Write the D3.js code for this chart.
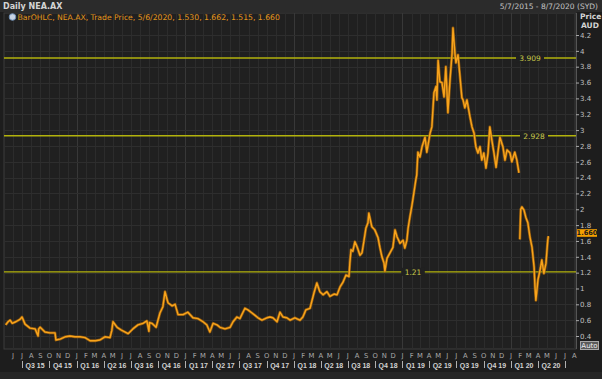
<!DOCTYPE html>
<html><head><meta charset="utf-8">
<script src="https://cdn.jsdelivr.net/npm/d3@7"></script>
<style>
html,body{margin:0;padding:0;background:#1d1d1d;overflow:hidden;}
svg{display:block;font-family:"DejaVu Sans",sans-serif;}
</style></head><body>
<svg id="chart" width="602" height="379"></svg>
<script>
// ---- data ----
const dates = [
"2015-05-07","2015-05-15","2015-05-22","2015-05-29","2015-06-10","2015-06-24","2015-07-01","2015-07-11","2015-07-28","2015-08-14",
"2015-08-24","2015-08-26","2015-08-31","2015-09-16","2015-10-03","2015-10-20","2015-10-23","2015-11-06","2015-11-23","2015-12-09",
"2015-12-26","2016-01-12","2016-01-29","2016-02-15","2016-03-03","2016-03-19","2016-04-05","2016-04-22","2016-04-28","2016-05-02",
"2016-05-16","2016-06-01","2016-06-22","2016-07-08","2016-07-25","2016-08-11","2016-08-24","2016-08-31","2016-09-02","2016-09-10",
"2016-09-24","2016-10-07","2016-10-17","2016-10-24","2016-11-03","2016-11-17","2016-11-27","2016-12-07","2016-12-24","2017-01-09",
"2017-01-26","2017-02-12","2017-03-01","2017-03-14","2017-03-24","2017-04-04","2017-04-17","2017-04-27","2017-05-14","2017-05-31",
"2017-06-10","2017-06-23","2017-07-03","2017-07-20","2017-07-30","2017-08-13","2017-08-23","2017-09-02","2017-09-15","2017-10-02",
"2017-10-12","2017-10-22","2017-11-05","2017-11-15","2017-11-25","2017-12-08","2017-12-19","2018-01-04","2018-01-21","2018-01-31",
"2018-02-10","2018-02-24","2018-03-09","2018-03-19","2018-03-29","2018-04-09","2018-04-22","2018-05-02","2018-05-16","2018-05-26",
"2018-06-05","2018-06-15","2018-06-25","2018-07-05","2018-07-08","2018-07-12","2018-07-18","2018-07-25","2018-08-01","2018-08-11",
"2018-08-18","2018-08-24","2018-08-31","2018-09-07","2018-09-10","2018-09-20","2018-09-30","2018-10-11","2018-10-17","2018-10-24",
"2018-10-31","2018-11-03","2018-11-10","2018-11-20","2018-11-30","2018-12-07","2018-12-14","2018-12-24","2019-01-03","2019-01-09",
"2019-01-16","2019-01-20","2019-01-26","2019-02-02","2019-02-09","2019-02-15","2019-02-18","2019-02-22","2019-03-01","2019-03-08",
"2019-03-18","2019-03-24","2019-04-04","2019-04-10","2019-04-17","2019-04-24","2019-04-27","2019-05-01","2019-05-07","2019-05-14",
"2019-05-21","2019-05-27","2019-06-03","2019-06-10","2019-06-17","2019-06-20","2019-06-27","2019-06-30","2019-07-07","2019-07-13",
"2019-07-20","2019-07-24","2019-07-30","2019-08-06","2019-08-16","2019-08-23","2019-08-30","2019-09-05","2019-09-12","2019-09-19",
"2019-09-25","2019-10-02","2019-10-09","2019-10-16","2019-10-22","2019-10-29","2019-11-05","2019-11-12","2019-11-18","2019-11-25",
"2019-12-05","2019-12-12","2019-12-19","2019-12-29","2020-01-04","2020-01-14","2020-01-21","2020-01-28","2020-01-30","2020-01-31",
"2020-02-03","2020-02-07","2020-02-14","2020-02-20","2020-02-27","2020-03-05","2020-03-12","2020-03-19","2020-03-22","2020-03-25",
"2020-04-01","2020-04-08","2020-04-14","2020-04-21","2020-04-28","2020-05-04","2020-05-06"
];
const prices = [
0.54,0.58,0.60,0.56,0.58,0.61,0.64,0.55,0.50,0.49,
0.40,0.49,0.51,0.45,0.44,0.44,0.35,0.36,0.39,0.40,
0.39,0.39,0.38,0.34,0.34,0.35,0.39,0.38,0.47,0.58,
0.51,0.47,0.43,0.49,0.54,0.56,0.59,0.46,0.57,0.56,
0.51,0.69,0.77,0.96,0.82,0.78,0.80,0.67,0.67,0.70,
0.63,0.62,0.58,0.54,0.45,0.56,0.54,0.51,0.49,0.51,
0.58,0.64,0.62,0.75,0.73,0.69,0.66,0.63,0.60,0.63,
0.64,0.63,0.58,0.70,0.64,0.63,0.60,0.63,0.60,0.64,
0.73,0.75,0.94,1.07,0.96,0.92,0.96,0.90,0.93,0.92,
1.02,1.08,1.17,1.15,1.32,1.49,1.47,1.59,1.53,1.42,
1.45,1.59,1.76,1.83,1.95,1.78,1.74,1.64,1.52,1.40,
1.32,1.22,1.38,1.45,1.52,1.74,1.65,1.57,1.61,1.51,
1.61,1.76,1.90,2.05,2.22,2.37,2.43,2.72,2.66,2.79,
2.91,2.72,2.96,3.04,3.47,3.55,3.38,3.88,3.61,3.60,
3.42,3.80,3.22,3.63,3.97,4.29,3.95,3.85,3.95,3.70,
3.41,3.38,3.28,3.38,3.17,3.04,2.96,2.79,2.71,2.79,
2.62,2.71,2.52,2.71,3.04,2.87,2.71,2.53,2.71,2.91,
2.79,2.62,2.75,2.71,2.60,2.72,2.62,2.46,null,1.62,
2.00,2.03,1.99,1.90,1.83,1.65,1.52,1.27,1.02,0.85,
1.11,1.23,1.36,1.19,1.32,1.61,1.66
];
const refLevels = [3.909, 2.928, 1.21];
const refLabels = ["3.909", "2.928", "1.21"];
const yTicks = [0.4,0.6,0.8,1,1.2,1.4,1.6,1.8,2,2.2,2.4,2.6,2.8,3,3.2,3.4,3.6,3.8,4,4.2];
const quarterLabels = ["Q3 15","Q4 15","Q1 16","Q2 16","Q3 16","Q4 16","Q1 17","Q2 17","Q3 17","Q4 17",
  "Q1 18","Q2 18","Q3 18","Q4 18","Q1 19","Q2 19","Q3 19","Q4 19","Q1 20","Q2 20"];
const lastPrice = "1.660";
const legendText = "BarOHLC, NEA.AX, Trade Price, 5/6/2020, 1.530, 1.662, 1.515, 1.660";

// ---- layout ----
const W = 602, H = 379;
const P = {left: 4, right: 576, top: 13, bottom: 349};
const parse = d3.timeParse("%Y-%m-%d");
const series = dates.map((d, i) => ({date: parse(d), value: prices[i]}));

const x = d3.scaleTime()
  .domain([parse("2015-05-07"), parse("2020-08-07")])
  .range([5.7, P.right]);
const y = d3.scaleLinear().domain([0.236, 4.478]).range([P.bottom, P.top]);

const svg = d3.select("#chart");
svg.append("rect").attr("width", W).attr("height", H).attr("fill", "#1d1d1d");
// header bar
svg.append("rect").attr("x", 0).attr("y", 0).attr("width", W).attr("height", 12).attr("fill", "#2b2b2b");
svg.append("text").attr("x", 3).attr("y", 9).attr("font-size", 8).attr("font-weight", "bold")
  .attr("fill", "#d4d4d4").text("Daily NEA.AX");
svg.append("text").attr("x", 598).attr("y", 9).attr("font-size", 7.5).attr("text-anchor", "end")
  .attr("fill", "#c4c4c4").text("5/7/2015 - 8/7/2020 (SYD)");

// plot background
svg.append("rect").attr("x", P.left).attr("y", P.top).attr("width", P.right - P.left)
  .attr("height", P.bottom - P.top).attr("fill", "#202020").attr("stroke", "#3c3c3c").attr("stroke-width", 1);

const months = d3.timeMonth.range(new Date(2015, 5, 1), new Date(2020, 8, 1));
const grid = svg.append("g");
grid.selectAll("line.v").data(months).join("line")
  .attr("x1", d => Math.round(x(d)) + 0.5).attr("x2", d => Math.round(x(d)) + 0.5)
  .attr("y1", P.top).attr("y2", P.bottom)
  .attr("stroke", d => d.getMonth() === 0 ? "#383838" : "#2c2c2c").attr("stroke-width", 1);
grid.selectAll("line.h").data(yTicks).join("line")
  .attr("x1", P.left).attr("x2", P.right)
  .attr("y1", d => Math.round(y(d)) + 0.5).attr("y2", d => Math.round(y(d)) + 0.5)
  .attr("stroke", "#2e2e2e").attr("stroke-width", 1);

// legend
const lg = svg.append("g");
lg.append("circle").attr("cx", 12.5).attr("cy", 17).attr("r", 3.3).attr("fill", "#c8d4e4").attr("stroke", "#6f8fb5").attr("stroke-width", 1);
lg.append("text").attr("x", 17.5).attr("y", 20).attr("font-size", 7.7).attr("fill", "#e4961c").text(legendText);

// reference lines
const refG = svg.append("g");
const labelX = [530, 534, 413];
refLevels.forEach((v, i) => {
  const yy = y(v);
  refG.append("line").attr("x1", P.left).attr("x2", P.right).attr("y1", yy).attr("y2", yy)
    .attr("stroke", "#b2b20c").attr("stroke-width", 1.4);
  const w = refLabels[i].length * 4.4 + 6;
  refG.append("rect").attr("x", labelX[i] - w / 2).attr("y", yy - 4).attr("width", w).attr("height", 8).attr("fill", "#202020");
  refG.append("text").attr("x", labelX[i]).attr("y", yy + 3).attr("text-anchor", "middle")
    .attr("font-size", 7.5).attr("fill", "#c9c94a").text(refLabels[i]);
});

// price line
const line = d3.line().defined(d => d.value != null).x(d => x(d.date)).y(d => y(d.value));
svg.append("path").datum(series).attr("d", line).attr("fill", "none")
  .attr("stroke", "#a8650a").attr("stroke-width", 2.8).attr("stroke-linejoin", "round").attr("opacity", 0.8);
svg.append("path").datum(series).attr("d", line).attr("fill", "none")
  .attr("stroke", "#f8a41c").attr("stroke-width", 1.4).attr("stroke-linejoin", "round");

// right axis
const yAxis = d3.axisRight(y).tickValues(yTicks).tickSize(3).tickPadding(1)
  .tickFormat(d => String(+d.toFixed(1)));
const ya = svg.append("g").attr("transform", `translate(${P.right},0)`).call(yAxis);
ya.select(".domain").attr("stroke", "#555").attr("d", `M0.5,${P.top}V${P.bottom}`);
ya.selectAll(".tick line").attr("stroke", "#aaa");
ya.selectAll(".tick text").attr("fill", "#c0c0c0").attr("font-size", 7).attr("font-family", "DejaVu Sans");
svg.append("text").attr("x", 580).attr("y", 19).attr("font-size", 7.5).attr("font-weight", "bold").attr("fill", "#d4d4d4").text("Price");
svg.append("text").attr("x", 581).attr("y", 28).attr("font-size", 7.5).attr("font-weight", "bold").attr("fill", "#d4d4d4").text("AUD");

// last price box
const ly = y(+lastPrice);
svg.append("rect").attr("x", 577).attr("y", ly - 7).attr("width", 20).attr("height", 7.6).attr("fill", "#f5a000");
svg.append("text").attr("x", 587).attr("y", ly - 0.9).attr("text-anchor", "middle").attr("font-size", 6.6)
  .attr("font-weight", "bold").attr("fill", "#1a1a1a").text(lastPrice);

// Auto button
svg.append("rect").attr("x", 580.5).attr("y", 341.5).attr("width", 18).attr("height", 8).attr("fill", "#5a5a5a").attr("stroke", "#a8a8a8");
svg.append("text").attr("x", 589.5).attr("y", 348.2).attr("text-anchor", "middle").attr("font-size", 7).attr("fill", "#f0f0f0").text("Auto");

// bottom axis: months
const xa = svg.append("g");
xa.selectAll("text.m").data(months).join("text")
  .attr("x", d => x(d)).attr("y", 358).attr("text-anchor", "middle").attr("font-size", 6.8)
  .attr("fill", "#a8a8a8").text(d => d3.timeFormat("%b")(d)[0]);
const quarters = d3.timeMonth.every(3).range(new Date(2015, 6, 1), new Date(2020, 7, 1));
xa.selectAll("line.q").data(quarters).join("line")
  .attr("x1", d => Math.round(x(d)) + 0.5).attr("x2", d => Math.round(x(d)) + 0.5)
  .attr("y1", 361).attr("y2", 368).attr("stroke", "#b0b0b0");
xa.selectAll("text.q").data(quarters.slice(0, quarterLabels.length)).join("text")
  .attr("x", d => x(d) + 3.5).attr("y", 367.5).attr("font-size", 7.6).attr("font-weight", "bold")
  .attr("font-family", "Liberation Sans")
  .attr("textLength", 19).attr("lengthAdjust", "spacingAndGlyphs")
  .attr("fill", "#d2d2d2").text((d, i) => quarterLabels[i]);

// bottom strip
svg.append("rect").attr("x", 0).attr("y", 372).attr("width", W).attr("height", 7).attr("fill", "#262626");
</script>
</body></html>
